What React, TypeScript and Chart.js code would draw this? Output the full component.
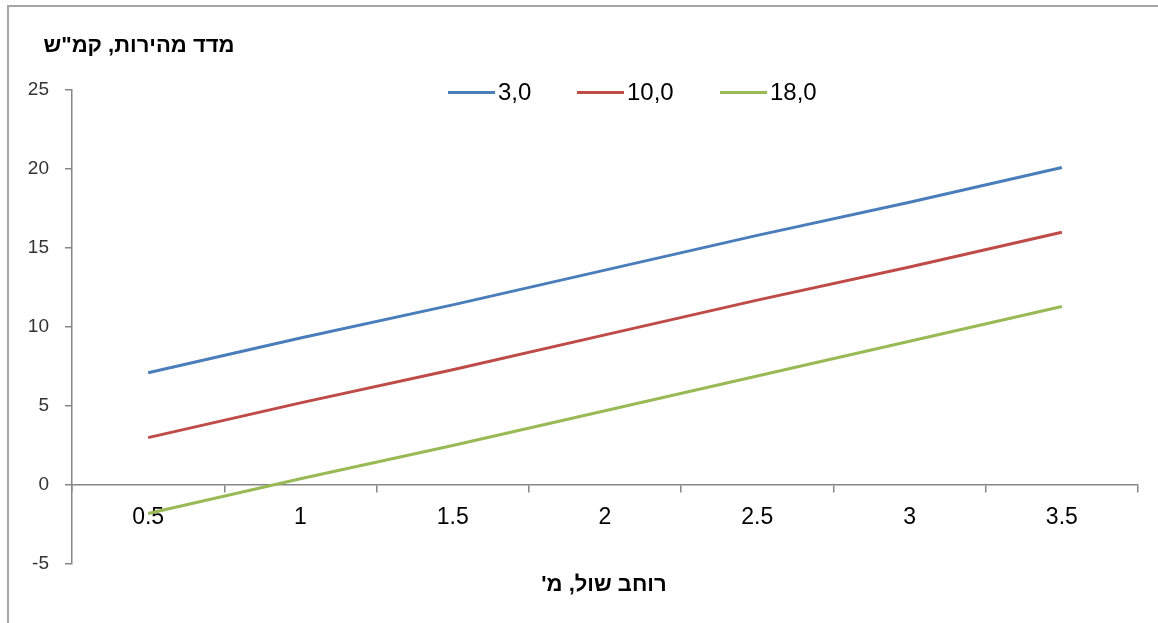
import React, { useEffect, useRef } from "react";
import { Chart, registerables } from "chart.js";

Chart.register(...registerables);

// Shoulder width (m) on the category axis
const shoulderWidths = ["0.5", "1", "1.5", "2", "2.5", "3", "3.5"];

// Legend names of the three series
const seriesNames = ["3,0", "10,0", "18,0"];

// Speed index (km/h) per shoulder width, one array per series
const speedIndex3 = [7.1, 9.3, 11.4, 13.6, 15.8, 17.9, 20.1];
const speedIndex10 = [3.0, 5.2, 7.3, 9.5, 11.7, 13.8, 16.0];
const speedIndex18 = [-1.8, 0.4, 2.5, 4.7, 6.9, 9.1, 11.3];

// Value axis range
const yMin = -5;
const yMax = 25;
const yStep = 5;

const yAxisTitle = 'מדד מהירות, קמ"ש';
const xAxisTitle = "רוחב שול, מ'";

const seriesColors = ["#4A7EBB", "#BE4B48", "#98B954"];
const FONT = '"Liberation Sans", Arial, sans-serif';
const AXIS_GRAY = "#868686";

// Draws the horizontal axis titles and the inline legend
const titlesAndLegend = {
  id: "titlesAndLegend",
  afterDraw(chart: any) {
    const ctx: CanvasRenderingContext2D = chart.ctx;
    ctx.save();
    ctx.fillStyle = "#000";
    ctx.font = `bold 22px ${FONT}`;
    ctx.textAlign = "center";
    ctx.textBaseline = "alphabetic";
    (ctx as any).direction = "rtl";
    ctx.fillText(yAxisTitle, 139, 52);
    ctx.fillText(xAxisTitle, 604, 591);
    (ctx as any).direction = "ltr";

    const starts = [448, 577, 720];
    ctx.font = `24px ${FONT}`;
    ctx.textAlign = "left";
    ctx.textBaseline = "middle";
    chart.data.datasets.forEach((ds: any, i: number) => {
      const x = starts[i];
      ctx.strokeStyle = ds.borderColor;
      ctx.lineWidth = 3;
      ctx.beginPath();
      ctx.moveTo(x, 92.5);
      ctx.lineTo(x + 47, 92.5);
      ctx.stroke();
      ctx.fillStyle = "#000";
      ctx.fillText(ds.label, x + 50, 93);
    });
    ctx.restore();
  },
};

export default function App() {
  const canvasRef = useRef<HTMLCanvasElement | null>(null);

  useEffect(() => {
    if (!canvasRef.current) return;
    const values = [speedIndex3, speedIndex10, speedIndex18];
    const chart = new Chart(canvasRef.current, {
      type: "line",
      data: {
        labels: shoulderWidths,
        datasets: values.map((data, i) => ({
          label: seriesNames[i],
          data,
          borderColor: seriesColors[i],
          backgroundColor: seriesColors[i],
          borderWidth: 3,
          pointRadius: 0,
          tension: 0,
          fill: false,
        })),
      },
      options: {
        responsive: false,
        animation: false,
        layout: { padding: { top: 90, bottom: 59, left: 0, right: 20 } },
        plugins: {
          legend: { display: false },
          title: { display: false },
          tooltip: { enabled: false },
        },
        scales: {
          x: {
            type: "category",
            position: { y: 0 } as any,
            offset: true,
            z: 1,
            grid: {
              offset: true,
              drawOnChartArea: false,
              drawTicks: true,
              tickLength: 7,
              color: AXIS_GRAY,
              lineWidth: 1.5,
            },
            border: { display: true, color: AXIS_GRAY, width: 1.5 },
            ticks: {
              color: "#000",
              padding: 12,
              maxRotation: 0,
              autoSkip: false,
              font: { family: FONT, size: 23 },
            },
          },
          y: {
            min: yMin,
            max: yMax,
            position: "left",
            afterFit: (scale: any) => {
              scale.width = 72;
            },
            grid: {
              drawOnChartArea: false,
              drawTicks: true,
              tickLength: 7,
              color: AXIS_GRAY,
              lineWidth: 1.5,
            },
            border: { display: true, color: AXIS_GRAY, width: 1.5 },
            ticks: {
              stepSize: yStep,
              color: "#333",
              padding: 16,
              font: { family: FONT, size: 19 },
            },
          },
        },
      },
      plugins: [titlesAndLegend],
    });
    return () => chart.destroy();
  }, []);

  return (
    <div
      style={{
        position: "fixed",
        left: 0,
        top: 0,
        width: 1158,
        height: 623,
        overflow: "hidden",
        background: "#fff",
      }}
    >
      <div
        style={{
          position: "absolute",
          left: 7,
          top: 5,
          width: 1170,
          height: 640,
          border: "2px solid #A6A6A6",
          boxSizing: "border-box",
        }}
      />
      <canvas
        ref={canvasRef}
        width={1158}
        height={623}
        style={{ position: "absolute", left: 0, top: 0 }}
      />
    </div>
  );
}
